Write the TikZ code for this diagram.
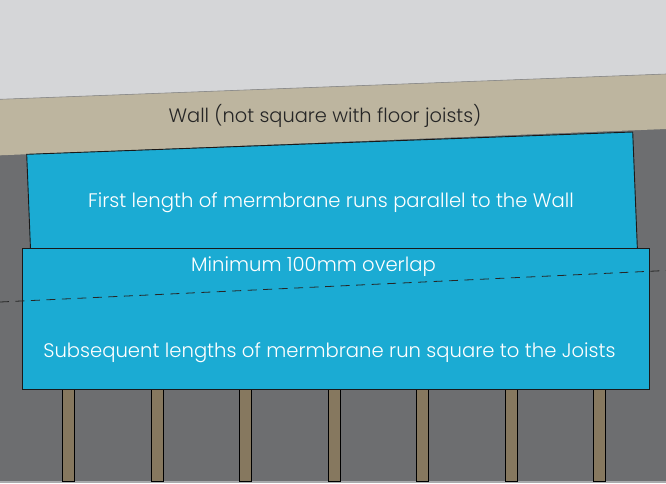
\documentclass[tikz,border=0pt]{standalone}
\usepackage{fontspec}
\setmainfont{Poppins Light}
\definecolor{skygray}{HTML}{D5D6D8}
\definecolor{floorgray}{HTML}{6D6E70}
\definecolor{wallbeige}{HTML}{BDB59F}
\definecolor{membblue}{HTML}{1BABD3}
\definecolor{joisttan}{HTML}{86785F}
\definecolor{stripgray}{HTML}{A9AAAC}
\tikzset{
  membrane/.style={fill=membblue, draw=black!90, line width=0.9pt, line join=miter},
  joist/.style={fill=joisttan, draw=black, line width=0.7pt},
  whitelabel/.style={text=white, font=\fontsize{19.6}{22}\selectfont, inner sep=0pt},
  walllabel/.style={text=black!85, font=\fontsize{19.4}{22}\selectfont, inner sep=0pt},
  overlapline/.style={draw=black!85, line width=0.8pt, dash pattern=on 9pt off 6.5pt}
}
\begin{document}
\begin{tikzpicture}[x=1pt,y=-1pt]
\useasboundingbox (0,0) rectangle (666,483);
% background
\fill[floorgray] (0,0) rectangle (666,483);
\fill[stripgray] (0,481) rectangle (666,483);
\fill[skygray] (0,0) -- (666,0) -- (666,74) -- (0,99.3) -- cycle;
% wall band
\fill[wallbeige] (0,99.3) -- (666,74) -- (666,129) -- (0,155.3) -- cycle;
\draw[black!45, line width=0.6pt] (0,99.3) -- (666,74);
% joists
\foreach \i in {0,...,6} {
  \draw[joist] ({62.5+88.5*\i},389) rectangle ({74.5+88.5*\i},481);
}
% first membrane (parallel to wall)
\draw[membrane] (26.7,154.3) -- (632.7,132) -- (637.5,252) -- (31.5,274) -- cycle;
% subsequent membrane (square to joists)
\draw[membrane] (22.7,248.5) rectangle (649.3,389);
% overlap line
\coordinate (ovl) at (0,302);
\coordinate (ovr) at (666,270.5);
\draw[overlapline] (ovl) -- (ovr);
% labels
\node[walllabel] (wall) at (325,116) {Wall (not square with floor joists)};
\node[whitelabel] (first) at (331,203) {First length of mermbrane runs parallel to the Wall};
\node[whitelabel] (overlap) at (313.5,267) {Minimum 100mm overlap};
\node[whitelabel] (subseq) at (329.5,353) {Subsequent lengths of mermbrane run square to the Joists};
\end{tikzpicture}
\end{document}
